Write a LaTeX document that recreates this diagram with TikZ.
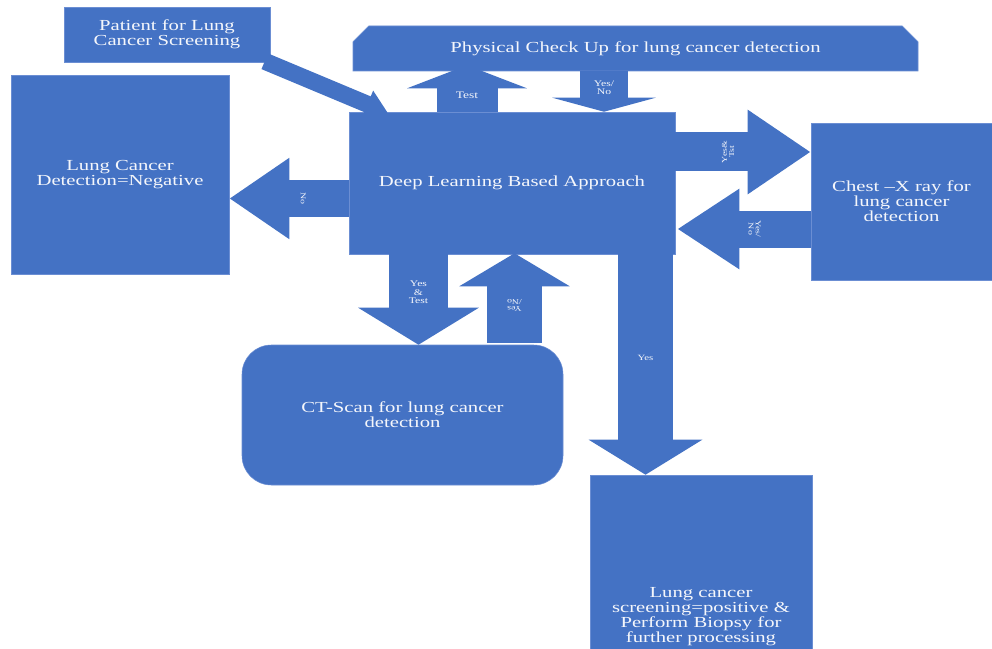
\documentclass[tikz,border=0pt]{standalone}
\usepackage{fontspec}
\setmainfont[FakeStretch=1.35]{Liberation Serif}
\usepackage{tikz}
\usetikzlibrary{positioning,arrows.meta,calc,shapes.misc}
\definecolor{cBlue}{HTML}{4472C4}
\definecolor{cEdge}{HTML}{6B8ED3}
\definecolor{cTxt} {HTML}{F4F6FB}
\tikzset{
  sbox/.style={fill=cBlue,draw=cEdge,line width=0.4pt,align=center,text=cTxt,
               inner sep=2pt,font=\fontsize{11.5}{11.25}\selectfont},
  slab/.style={text=cTxt,align=center,inner sep=0pt,
               font=\fontsize{6.5}{6.4}\selectfont},
  srot/.style={slab,font=\fontsize{5.5}{5.5}\selectfont},
  sar/.style n args={3}{draw=cBlue,line width=#1,-{Triangle[length=#2,width=#3]}},
}
\begin{document}
\begin{tikzpicture}[x=0.75pt,y=-0.75pt]
  \path[use as bounding box,fill=white] (0,0) rectangle (992,649);
  % boxes
  \node[sbox,minimum width=154.5pt,minimum height=41.25pt] (pat) at (167,34.5)
    {Patient for Lung\\Cancer Screening};
  \node[sbox,chamfered rectangle,chamfered rectangle corners={north west,north east},
        chamfered rectangle xsep=9pt,chamfered rectangle ysep=4.5pt,
        minimum width=423.75pt,minimum height=33.75pt] (phys) at (635.5,48.5)
    {Physical Check Up for lung cancer detection};
  \node[sbox,minimum width=163.5pt,minimum height=149.25pt] (neg) at (120,174.5)
    {Lung Cancer\\Detection=Negative};
  \node[sbox,minimum width=244.5pt,minimum height=106.5pt] (dl) at (512,183)
    {Deep Learning Based Approach};
  \node[sbox,minimum width=135.75pt,minimum height=117.75pt] (cxr) at (901.5,201.5)
    {Chest --X ray for\\lung cancer\\detection};
  \node[sbox,rounded corners=22pt,minimum width=240.75pt,minimum height=105pt] (ct) at (402.5,415)
    {CT-Scan for lung cancer\\detection};
  \node[sbox,minimum width=166.5pt,minimum height=212.25pt] (pos) at (701,616.5)
    {Lung cancer\\screening=positive \&\\Perform Biopsy for\\further processing};
  % block arrows
  \draw[sar={12.75pt}{16.5pt}{21pt}] ($(pat.south east)+(-5.5,-1)$) -- ($(dl.north west)+(39,1)$);
  \draw[sar={45.75pt}{17.25pt}{89.25pt}] ($(dl.north)+(-45,0)$) -- ($(phys.south)+(-168.5,-6)$)
    node[slab,pos=0.36,font=\fontsize{7.5}{7.5}\selectfont] (tst) {Test};
  \draw[sar={36pt}{10.5pt}{77.25pt}] ($(phys.south)+(-31.5,0)$) -- ($(dl.north)+(92,0)$)
    node[slab,pos=0.41] (yn1) {Yes/\\No};
  \draw[sar={29.25pt}{47.25pt}{60pt}] ($(dl.east)+(0,-31)$) -- ($(cxr.west)+(0,-49.5)$)
    node[srot,pos=0.39,rotate=90] (yt1) {Yes\&\\Tst};
  \draw[sar={27.75pt}{46.5pt}{57pt}] ($(cxr.west)+(0,27.5)$) -- ($(dl.east)+(2,46)$)
    node[srot,pos=0.42,rotate=-90] (yn2) {Yes/\\No};
  \draw[sar={27.75pt}{45pt}{57.75pt}] ($(dl.west)+(0,15.5)$) -- ($(neg.east)+(0,24)$)
    node[srot,pos=0.38,rotate=-90] (no) {No};
  \draw[sar={44.25pt}{27.75pt}{89.25pt}] ($(dl.south)+(-93.5,0)$) -- ($(ct.north)+(16,0)$)
    node[slab,pos=0.42] (yt2) {Yes\\\&\\Test};
  \draw[sar={41.25pt}{24.75pt}{81.75pt}] ($(ct.north)+(112,-2)$) -- ($(dl.south)+(2.5,-1)$)
    node[srot,pos=0.42,rotate=180] (yn3) {Yes\\/No};
  \draw[sar={41.25pt}{26.25pt}{84pt}] ($(dl.south)+(133.5,0)$) -- ($(pos.north)+(-55.5,0)$)
    node[slab,pos=0.47,font=\fontsize{6}{6}\selectfont] (yes) {Yes};
\end{tikzpicture}
\end{document}
